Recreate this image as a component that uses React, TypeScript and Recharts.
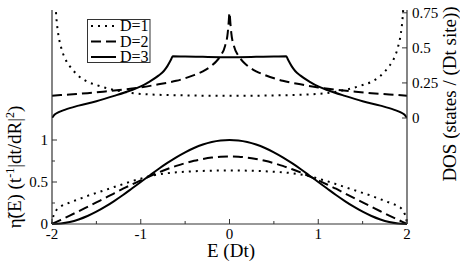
import React from 'react';
import { LineChart, Line, XAxis, YAxis } from 'recharts';

// ---------- data ----------
const SERIES_NAMES = ['D=1', 'D=2', 'D=3'];

// Top panel: density of states
const E_DOS1 = [-2, -1.98, -1.97, -1.96, -1.95, -1.93, -1.9, -1.85, -1.8, -1.7, -1.6, -1.5, -1.3, -1.1, -0.9, -0.5, 0, 0.5, 0.9, 1.1, 1.3, 1.5, 1.6, 1.7, 1.8, 1.85, 1.9, 1.93, 1.95, 1.96, 1.97, 1.98];
const DOS1 = [3.0, 1.13, 0.92, 0.8, 0.71, 0.6, 0.51, 0.42, 0.37, 0.3, 0.258, 0.235, 0.2, 0.178, 0.168, 0.161, 0.158, 0.161, 0.168, 0.178, 0.2, 0.235, 0.258, 0.3, 0.37, 0.42, 0.51, 0.6, 0.71, 0.8, 0.92, 1.13];

const E_DOS2 = [-2, -1.8, -1.6, -1.4, -1.2, -1.0, -0.8, -0.6, -0.4, -0.3, -0.2, -0.15, -0.1, -0.05, -0.02, -0.01, 0, 0.01, 0.02, 0.05, 0.1, 0.15, 0.2, 0.3, 0.4, 0.6, 0.8, 1.0, 1.2, 1.4, 1.6, 1.8, 2];
const DOS2 = [0.159, 0.168, 0.177, 0.189, 0.202, 0.218, 0.24, 0.265, 0.306, 0.333, 0.374, 0.403, 0.444, 0.514, 0.607, 0.677, 0.75, 0.677, 0.607, 0.514, 0.444, 0.403, 0.374, 0.333, 0.306, 0.265, 0.24, 0.218, 0.202, 0.189, 0.177, 0.168, 0.159];

const E_DOS3 = [-2, -1.97, -1.93, -1.85, -1.7, -1.5, -1.3, -1.1, -1.0, -0.9, -0.8, -0.74, -0.7, -0.66, -0.64, -0.5, -0.3, 0, 0.3, 0.5, 0.64, 0.66, 0.7, 0.74, 0.8, 0.9, 1.0, 1.1, 1.3, 1.5, 1.7, 1.85, 1.93, 1.97, 2];
const DOS3 = [0, 0.025, 0.04, 0.06, 0.088, 0.12, 0.158, 0.2, 0.225, 0.26, 0.302, 0.335, 0.37, 0.415, 0.44, 0.438, 0.436, 0.434, 0.436, 0.438, 0.44, 0.415, 0.37, 0.335, 0.302, 0.26, 0.225, 0.2, 0.158, 0.12, 0.088, 0.06, 0.04, 0.025, 0];

// Bottom panel: eta(E)
const E_ETA1 = [-2, -1.99, -1.97, -1.94, -1.9, -1.8, -1.7, -1.6, -1.5, -1.4, -1.3, -1.2, -1.1, -1, -0.9, -0.8, -0.7, -0.6, -0.5, -0.4, -0.3, -0.2, -0.1, 0, 0.1, 0.2, 0.3, 0.4, 0.5, 0.6, 0.7, 0.8, 0.9, 1, 1.1, 1.2, 1.3, 1.4, 1.5, 1.6, 1.7, 1.8, 1.9, 1.94, 1.97, 1.99, 2];
const ETA1 = [0, 0.07, 0.13, 0.18, 0.21, 0.255, 0.295, 0.335, 0.37, 0.405, 0.44, 0.475, 0.51, 0.54, 0.57, 0.59, 0.605, 0.615, 0.622, 0.628, 0.632, 0.635, 0.637, 0.638, 0.637, 0.635, 0.632, 0.628, 0.622, 0.615, 0.605, 0.59, 0.57, 0.54, 0.51, 0.475, 0.44, 0.405, 0.37, 0.335, 0.295, 0.255, 0.21, 0.18, 0.13, 0.07, 0];

const E_GRID = [-2, -1.9, -1.8, -1.7, -1.6, -1.5, -1.4, -1.3, -1.2, -1.1, -1, -0.9, -0.8, -0.7, -0.6, -0.5, -0.4, -0.3, -0.2, -0.1, 0, 0.1, 0.2, 0.3, 0.4, 0.5, 0.6, 0.7, 0.8, 0.9, 1, 1.1, 1.2, 1.3, 1.4, 1.5, 1.6, 1.7, 1.8, 1.9, 2];
const ETA2 = [0, 0.05, 0.1, 0.152, 0.205, 0.258, 0.31, 0.365, 0.42, 0.47, 0.52, 0.568, 0.614, 0.655, 0.692, 0.724, 0.752, 0.774, 0.791, 0.801, 0.805, 0.801, 0.791, 0.774, 0.752, 0.724, 0.692, 0.655, 0.614, 0.568, 0.52, 0.47, 0.42, 0.365, 0.31, 0.258, 0.205, 0.152, 0.1, 0.05, 0];
const ETA3 = [0, 0.006, 0.024, 0.054, 0.095, 0.146, 0.206, 0.273, 0.345, 0.422, 0.5, 0.578, 0.655, 0.727, 0.794, 0.854, 0.905, 0.946, 0.976, 0.994, 1, 0.994, 0.976, 0.946, 0.905, 0.854, 0.794, 0.727, 0.655, 0.578, 0.5, 0.422, 0.345, 0.273, 0.206, 0.146, 0.095, 0.054, 0.024, 0.006, 0];

// Ticks
const X_TICKS = [-2, -1.5, -1, -0.5, 0, 0.5, 1, 1.5, 2];
const X_TICK_LABELS = ['-2', '-1', '0', '1', '2'];
const DOS_TICKS = [0, 0.25, 0.5, 0.75];
const DOS_TICK_LABELS = ['0', '0.25', '0.5', '0.75'];
const ETA_TICKS = [0, 0.25, 0.5, 0.75, 1];
const ETA_TICK_LABELS = ['0', '0.5', '1'];

const X_TITLE = 'E (Dt)';
const RIGHT_TITLE = 'DOS (states / (Dt site))';

// ---------- style ----------
const TXT = { fontFamily: "'Liberation Serif'" } as React.CSSProperties;
const FRAME = '#333';
const FW = 1.2;
const DASHES = ['2 5', '10 5', undefined];

const zip = (xs: number[], ys: number[]) => xs.map((e, i) => ({ e, v: ys[i] }));

const fmt = (v: number) => String(v);

const BottomTick = (props: any) => {
  const { x, y, payload } = props;
  const label = fmt(payload.value);
  const major = X_TICK_LABELS.includes(label);
  return (
    <g>
      <line x1={x} x2={x} y1={y} y2={y - (major ? 5 : 3)} stroke={FRAME} strokeWidth={1} />
      {major && (
        <text x={x} y={y + 15} textAnchor="middle" style={TXT} fontSize={15} fill="#000">
          {label}
        </text>
      )}
    </g>
  );
};

const DividerTick = (props: any) => {
  const { x, y, payload } = props;
  const major = X_TICK_LABELS.includes(fmt(payload.value));
  return <line x1={x} x2={x} y1={y} y2={y + (major ? 5 : 3)} stroke={FRAME} strokeWidth={1} />;
};

const LeftTick = (props: any) => {
  const { x, y, payload } = props;
  const label = fmt(payload.value);
  const major = ETA_TICK_LABELS.includes(label);
  return (
    <g>
      <line x1={x} x2={x + (major ? 5 : 3)} y1={y} y2={y} stroke={FRAME} strokeWidth={1} />
      {major && (
        <text x={x - 4} y={y + 5} textAnchor="end" style={TXT} fontSize={15} fill="#000">
          {label}
        </text>
      )}
    </g>
  );
};

const RightTick = (props: any) => {
  const { x, y, payload } = props;
  const label = fmt(payload.value);
  const major = DOS_TICK_LABELS.includes(label);
  return (
    <g>
      <line x1={x} x2={x - (major ? 5 : 3)} y1={y} y2={y} stroke={FRAME} strokeWidth={1} />
      {major && (
        <text x={x + 5} y={y + 5} textAnchor="start" style={TXT} fontSize={15} fill="#000">
          {label}
        </text>
      )}
    </g>
  );
};

const topSeries = [zip(E_DOS1, DOS1), zip(E_DOS2, DOS2), zip(E_DOS3, DOS3)];
const bottomSeries = [zip(E_ETA1, ETA1), zip(E_GRID, ETA2), zip(E_GRID, ETA3)];

const axisLine = { stroke: FRAME, strokeWidth: FW };

export default function App() {
  return (
    <div style={{ position: 'absolute', left: 0, top: 0, width: 460, height: 261, background: '#fff' }}>
      <div style={{ position: 'absolute', left: 0, top: 0 }}>
        <LineChart width={460} height={261} margin={{ top: 10, right: 0, bottom: 143, left: 0 }}>
          <XAxis type="number" dataKey="e" domain={[-2, 2]} hide allowDataOverflow />
          <XAxis xAxisId="top" orientation="top" type="number" dataKey="e" domain={[-2, 2]} height={0}
            tick={false} tickLine={false} axisLine={axisLine} />
          <YAxis yAxisId="l" orientation="left" type="number" width={52} domain={[0, 1]}
            tick={false} tickLine={false} axisLine={axisLine} />
          <YAxis orientation="right" type="number" width={53} domain={[0, 0.77]} allowDataOverflow
            ticks={DOS_TICKS} interval={0} tick={RightTick} tickLine={false} tickSize={0} tickMargin={0}
            axisLine={axisLine} />
          {topSeries.map((d, i) => (
            <Line key={SERIES_NAMES[i]} name={SERIES_NAMES[i]} data={d} dataKey="v" type="monotone"
              stroke="#000" strokeWidth={2} strokeDasharray={DASHES[i]} dot={false}
              isAnimationActive={false} />
          ))}
        </LineChart>
      </div>
      <div style={{ position: 'absolute', left: 0, top: 0 }}>
        <LineChart width={460} height={261} margin={{ top: 118, right: 0, bottom: 0, left: 0 }}>
          <XAxis type="number" dataKey="e" domain={[-2, 2]} ticks={X_TICKS} interval={0} height={37}
            tick={BottomTick} tickLine={false} tickSize={0} tickMargin={0} axisLine={axisLine} />
          <XAxis xAxisId="top" orientation="top" type="number" dataKey="e" domain={[-2, 2]} ticks={X_TICKS}
            interval={0} height={0} tick={DividerTick} tickLine={false} tickSize={0} tickMargin={0}
            axisLine={axisLine} />
          <YAxis type="number" width={52} domain={[0, 1.262]} ticks={ETA_TICKS} interval={0}
            tick={LeftTick} tickLine={false} tickSize={0} tickMargin={0} axisLine={axisLine} />
          <YAxis yAxisId="r" orientation="right" type="number" width={53} domain={[0, 1]}
            tick={false} tickLine={false} axisLine={axisLine} />
          {bottomSeries.map((d, i) => (
            <Line key={SERIES_NAMES[i]} name={SERIES_NAMES[i]} data={d} dataKey="v" type="monotone"
              stroke="#000" strokeWidth={2} strokeDasharray={DASHES[i]} dot={false}
              isAnimationActive={false} />
          ))}
        </LineChart>
      </div>
      <svg width={460} height={261} style={{ position: 'absolute', left: 0, top: 0, pointerEvents: 'none' }}>
        {/* legend */}
        <rect x={87.5} y={19.5} width={62.5} height={43} fill="#fff" stroke={FRAME} strokeWidth={1} />
        {SERIES_NAMES.map((n, i) => {
          const cy = 26 + i * 15.5;
          return (
            <g key={n}>
              <line x1={91} x2={116} y1={cy} y2={cy} stroke="#000" strokeWidth={2} strokeDasharray={DASHES[i]} />
              <text x={120} y={cy + 5} style={TXT} fontSize={16} fill="#000">{n}</text>
            </g>
          );
        })}
        {/* axis titles */}
        <text x={231} y={257} textAnchor="middle" style={TXT} fontSize={19} fill="#000">{X_TITLE}</text>
        <text x={456} y={94} transform="rotate(-90 456 94)" textAnchor="middle" style={TXT} fontSize={19} fill="#000">
          {RIGHT_TITLE}
        </text>
        <text x={21} y={167} transform="rotate(-90 21 167)" textAnchor="middle" style={TXT} fontSize={19} fill="#000">
          {'\u03B7\u0303(E) (t'}
          <tspan dy={-7} fontSize={12}>-1</tspan>
          <tspan dy={7}>|dt/dR|</tspan>
          <tspan dy={-7} fontSize={12}>2</tspan>
          <tspan dy={7}>)</tspan>
        </text>
      </svg>
    </div>
  );
}
